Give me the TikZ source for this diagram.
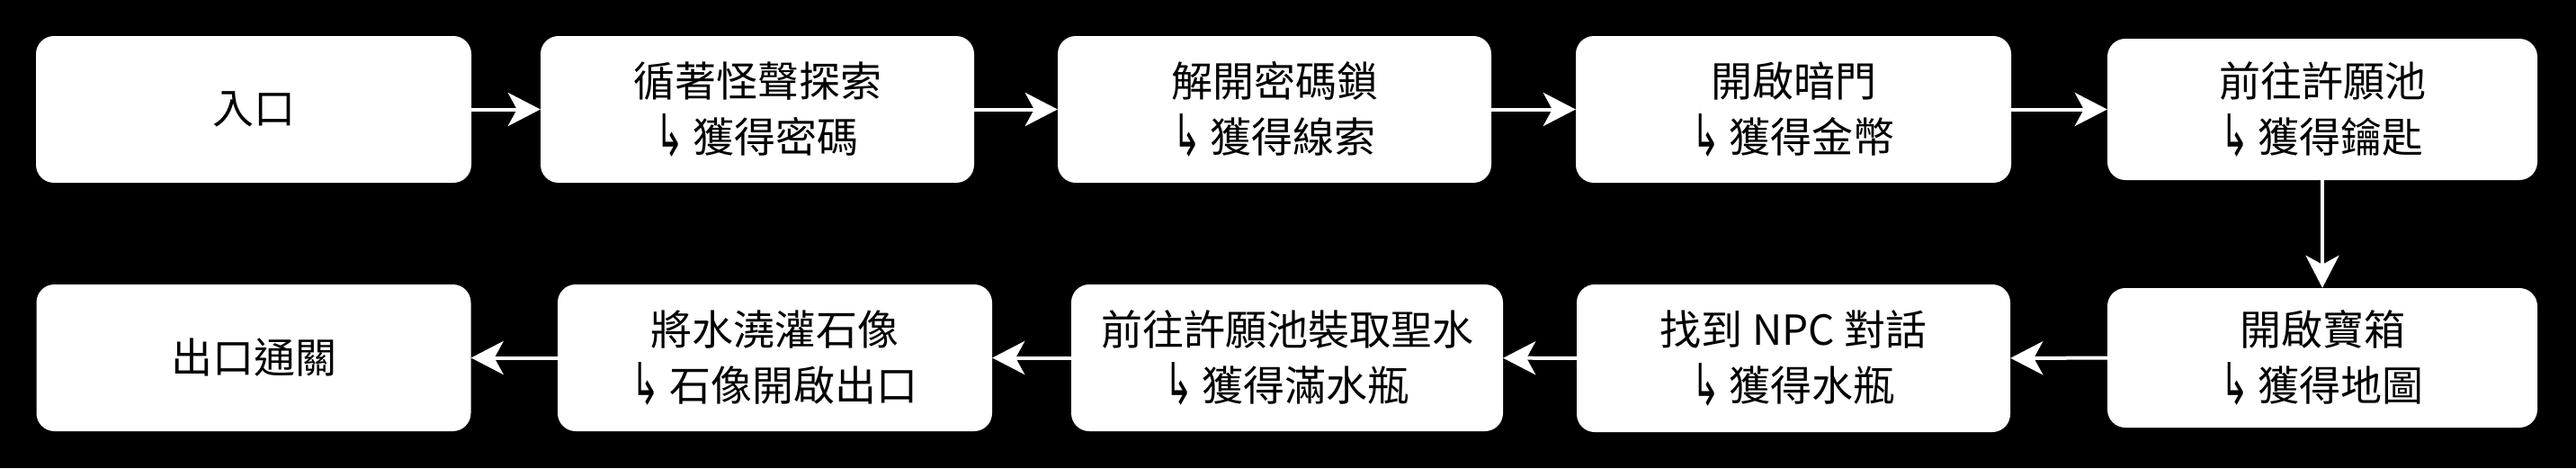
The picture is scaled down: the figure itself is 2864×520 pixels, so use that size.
\documentclass[tikz,border=0pt]{standalone}
\usepackage{fontspec}
\setmainfont{Noto Sans CJK TC}
\newfontfamily\arrowfont{DejaVu Sans}
\usetikzlibrary{arrows.meta}
\newcommand{\gotarr}{\raisebox{-0.1em}{\scalebox{0.8}[1.4]{\arrowfont ↳}}\ }
\tikzset{
  stepbox/.style={rectangle, rounded corners=20pt, fill=white, draw=none,
    inner sep=0pt, align=center, minimum width=482pt, minimum height=163pt,
    font=\fontsize{46pt}{62pt}\selectfont, text=black},
  arr/.style={draw=white, line width=4pt,
    -{Stealth[length=36pt,width=37pt,inset=10pt]}}
}
\begin{document}
\begin{tikzpicture}[x=1pt,y=-1pt]
\fill[black] (0,0) rectangle (2864,520);
\useasboundingbox (0,0) rectangle (2864,520);
% row 1
\node[stepbox, minimum width=484pt] (a1) at (282,121.5) {入口};
\node[stepbox] (a2) at (842,121.5) {循著怪聲探索\\\gotarr 獲得密碼};
\node[stepbox] (a3) at (1417,121.5) {解開密碼鎖\\\gotarr 獲得線索};
\node[stepbox, minimum width=484pt] (a4) at (1994,121.5) {開啟暗門\\\gotarr 獲得金幣};
\node[stepbox, minimum width=478pt, minimum height=157pt] (a5) at (2582,121.5) {前往許願池\\\gotarr 獲得鑰匙};
% row 2
\node[stepbox, minimum width=478pt, minimum height=155pt] (b5) at (2582,397.5) {開啟寶箱\\\gotarr 獲得地圖};
\node[stepbox, minimum height=164pt] (b4) at (1994,398) {找到 NPC 對話\\\gotarr 獲得水瓶};
\node[stepbox, minimum width=480pt] (b3) at (1431,397.5) {前往許願池裝取聖水\\\gotarr 獲得滿水瓶};
\node[stepbox, minimum width=483pt] (b2) at (861.5,397.5) {將水澆灌石像\\\gotarr 石像開啟出口};
\node[stepbox, minimum width=483pt] (b1) at (282,397.5) {出口通關};
% connectors
\draw[arr] (a1) -- (a2);
\draw[arr] (a2) -- (a3);
\draw[arr] (a3) -- (a4);
\draw[arr] (a4) -- (a5);
\draw[arr] (a5) -- (b5);
\draw[arr] (b5) -- (b4);
\draw[arr] (b4) -- (b3);
\draw[arr] (b3) -- (b2);
\draw[arr] (b2) -- (b1);
\end{tikzpicture}
\end{document}
